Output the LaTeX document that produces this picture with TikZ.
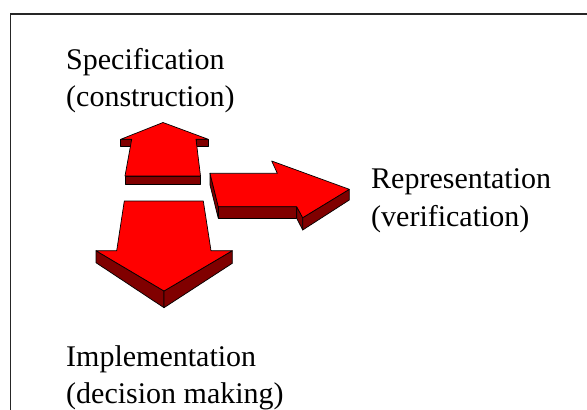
\documentclass[tikz,border=0pt]{standalone}
\usepackage{fontspec}
\setmainfont{Liberation Serif}
\begin{document}
\begin{tikzpicture}[x=1pt,y=-1pt,
  face/.style={fill=red,draw=black,line width=0.7pt,line join=round},
  side/.style={fill=red!50!black,draw=black,line width=0.7pt,line join=round},
  label/.style={anchor=base west,inner sep=0pt,font=\fontsize{30}{37.5}\selectfont}]
\useasboundingbox (0,0) rectangle (587,410);
% open frame: left and top edges only
\draw[line width=1.4pt,black!85] (10.5,410) -- (10.5,14) -- (587,14);

% --- upward arrow ---
\draw[side] (120.7,139.3) -- (131.7,139.3) -- (131.7,146.8) -- (120.7,146.8) -- cycle;
\draw[side] (196,139.3) -- (208.3,139.3) -- (208.3,146.8) -- (196,146.8) -- cycle;
\draw[side] (125,176) -- (200.5,176) -- (200.5,184) -- (125,184) -- cycle;
\draw[face] (163,122.5) -- (208.3,139.3) -- (196,139.3) -- (200.5,176)
  -- (125,176) -- (131.7,139.3) -- (120.7,139.3) -- cycle;

% --- rightward arrow ---
\draw[side] (210,173.3) -- (210,185) -- (218.3,218.3) -- (218.3,206.7) -- cycle;
\draw[side] (218.3,206.7) -- (296.7,206.7) -- (296.7,218.3) -- (218.3,218.3) -- cycle;
\draw[side] (296.7,206.7) -- (302.7,217.7) -- (302.7,230) -- (296.7,218.3) -- cycle;
\draw[side] (302.7,217.7) -- (349.3,189.3) -- (349.3,200) -- (302.7,230) -- cycle;
\draw[face] (210,173.3) -- (277.3,173.3) -- (271.7,161) -- (349.3,189.3)
  -- (302.7,217.7) -- (296.7,206.7) -- (218.3,206.7) -- cycle;

% --- downward arrow ---
\draw[side] (96,250.7) -- (164,291) -- (164,307.7) -- (96,262.7) -- cycle;
\draw[side] (164,291) -- (232.3,250.7) -- (232.3,263.3) -- (164,307.7) -- cycle;
\draw[face] (124.3,201) -- (203.3,201) -- (211,250.7) -- (232.3,250.7)
  -- (164,291) -- (96,250.7) -- (116.7,250.7) -- cycle;

% --- labels ---
\node[label] (spec1) at (66,69) {Specification};
\node[label] (spec2) at (66,106.5) {(construction)};
\node[label] (rep1) at (371,188.5) {Representation};
\node[label] (rep2) at (371,226) {(verification)};
\node[label] (imp1) at (66,366) {Implementation};
\node[label] (imp2) at (66,403.5) {(decision making)};
\end{tikzpicture}
\end{document}
